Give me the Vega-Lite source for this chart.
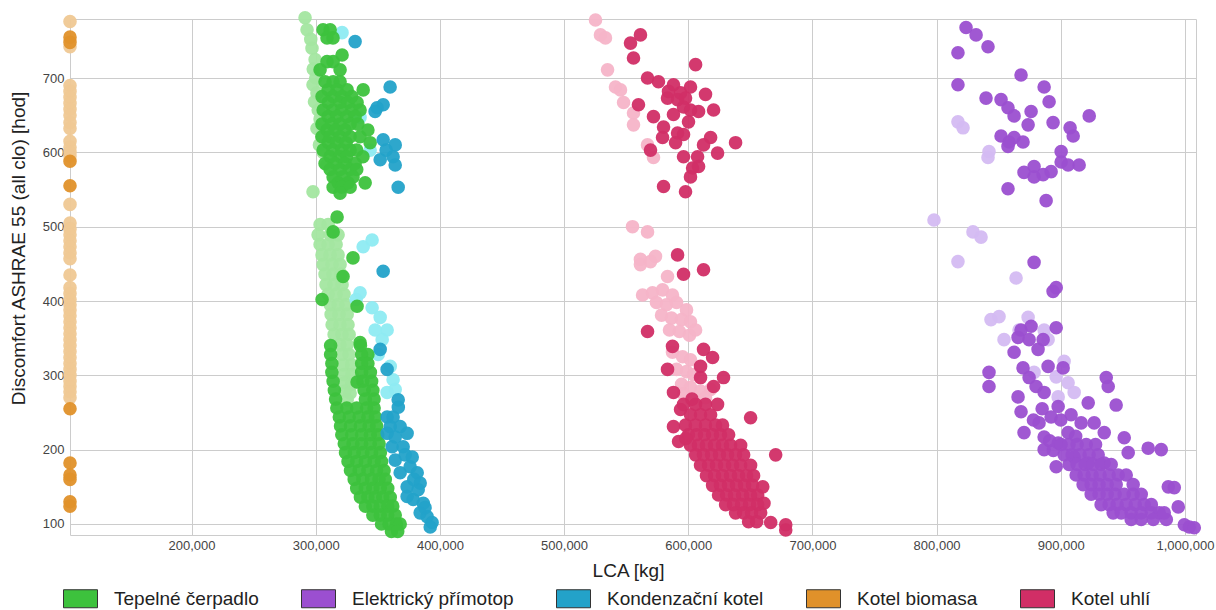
{
"$schema": "https://vega.github.io/schema/vega-lite/v6.json",
"width": 1126,
"height": 516,
"autosize": {"type": "none"},
"padding": {"left": 70, "top": 19, "right": 20, "bottom": 75},
"background": "white",
"config": {"view": {"stroke": "#cccccc"}, "font": "Liberation Sans"},
"datasets": {
"tmave": [
{"sys":"Tepelné čerpadlo","lca":305900,"hod":765},{"sys":"Tepelné čerpadlo","lca":311600,"hod":765},{"sys":"Tepelné čerpadlo","lca":309100,"hod":754},{"sys":"Tepelné čerpadlo","lca":313900,"hod":754},{"sys":"Tepelné čerpadlo","lca":321200,"hod":731},{"sys":"Tepelné čerpadlo","lca":309100,"hod":722},{"sys":"Tepelné čerpadlo","lca":314000,"hod":722},{"sys":"Tepelné čerpadlo","lca":303500,"hod":711},{"sys":"Tepelné čerpadlo","lca":319600,"hod":711},{"sys":"Tepelné čerpadlo","lca":307500,"hod":695},{"sys":"Tepelné čerpadlo","lca":314000,"hod":695},{"sys":"Tepelné čerpadlo","lca":319600,"hod":695},{"sys":"Tepelné čerpadlo","lca":310000,"hod":684},{"sys":"Tepelné čerpadlo","lca":317200,"hod":684},{"sys":"Tepelné čerpadlo","lca":325300,"hod":684},{"sys":"Tepelné čerpadlo","lca":338200,"hod":684},{"sys":"Tepelné čerpadlo","lca":305100,"hod":675},{"sys":"Tepelné čerpadlo","lca":314000,"hod":675},{"sys":"Tepelné čerpadlo","lca":321200,"hod":675},{"sys":"Tepelné čerpadlo","lca":329000,"hod":675},{"sys":"Tepelné čerpadlo","lca":310000,"hod":667},{"sys":"Tepelné čerpadlo","lca":319600,"hod":667},{"sys":"Tepelné čerpadlo","lca":326000,"hod":667},{"sys":"Tepelné čerpadlo","lca":333300,"hod":667},{"sys":"Tepelné čerpadlo","lca":306000,"hod":657},{"sys":"Tepelné čerpadlo","lca":314000,"hod":657},{"sys":"Tepelné čerpadlo","lca":321000,"hod":657},{"sys":"Tepelné čerpadlo","lca":329000,"hod":657},{"sys":"Tepelné čerpadlo","lca":335700,"hod":657},{"sys":"Tepelné čerpadlo","lca":310000,"hod":648},{"sys":"Tepelné čerpadlo","lca":317000,"hod":648},{"sys":"Tepelné čerpadlo","lca":325000,"hod":648},{"sys":"Tepelné čerpadlo","lca":331700,"hod":648},{"sys":"Tepelné čerpadlo","lca":305000,"hod":638},{"sys":"Tepelné čerpadlo","lca":313000,"hod":638},{"sys":"Tepelné čerpadlo","lca":319600,"hod":638},{"sys":"Tepelné čerpadlo","lca":327700,"hod":638},{"sys":"Tepelné čerpadlo","lca":334000,"hod":638},{"sys":"Tepelné čerpadlo","lca":309000,"hod":630},{"sys":"Tepelné čerpadlo","lca":316000,"hod":630},{"sys":"Tepelné čerpadlo","lca":323600,"hod":630},{"sys":"Tepelné čerpadlo","lca":342000,"hod":630},{"sys":"Tepelné čerpadlo","lca":305000,"hod":621},{"sys":"Tepelné čerpadlo","lca":311600,"hod":621},{"sys":"Tepelné čerpadlo","lca":319600,"hod":621},{"sys":"Tepelné čerpadlo","lca":327700,"hod":621},{"sys":"Tepelné čerpadlo","lca":335700,"hod":621},{"sys":"Tepelné čerpadlo","lca":310000,"hod":613},{"sys":"Tepelné čerpadlo","lca":317000,"hod":613},{"sys":"Tepelné čerpadlo","lca":324400,"hod":613},{"sys":"Tepelné čerpadlo","lca":343800,"hod":613},{"sys":"Tepelné čerpadlo","lca":306000,"hod":603},{"sys":"Tepelné čerpadlo","lca":314000,"hod":603},{"sys":"Tepelné čerpadlo","lca":321000,"hod":603},{"sys":"Tepelné čerpadlo","lca":327700,"hod":603},{"sys":"Tepelné čerpadlo","lca":333000,"hod":603},{"sys":"Tepelné čerpadlo","lca":311600,"hod":594},{"sys":"Tepelné čerpadlo","lca":319600,"hod":594},{"sys":"Tepelné čerpadlo","lca":325000,"hod":594},{"sys":"Tepelné čerpadlo","lca":338000,"hod":594},{"sys":"Tepelné čerpadlo","lca":307500,"hod":585},{"sys":"Tepelné čerpadlo","lca":315600,"hod":585},{"sys":"Tepelné čerpadlo","lca":323600,"hod":585},{"sys":"Tepelné čerpadlo","lca":331700,"hod":585},{"sys":"Tepelné čerpadlo","lca":311600,"hod":577},{"sys":"Tepelné čerpadlo","lca":319600,"hod":577},{"sys":"Tepelné čerpadlo","lca":327700,"hod":577},{"sys":"Tepelné čerpadlo","lca":333000,"hod":577},{"sys":"Tepelné čerpadlo","lca":314000,"hod":567},{"sys":"Tepelné čerpadlo","lca":322000,"hod":567},{"sys":"Tepelné čerpadlo","lca":330000,"hod":567},{"sys":"Tepelné čerpadlo","lca":318000,"hod":559},{"sys":"Tepelné čerpadlo","lca":326000,"hod":559},{"sys":"Tepelné čerpadlo","lca":339800,"hod":559},{"sys":"Tepelné čerpadlo","lca":314000,"hod":553},{"sys":"Tepelné čerpadlo","lca":321000,"hod":553},{"sys":"Tepelné čerpadlo","lca":327700,"hod":553},{"sys":"Tepelné čerpadlo","lca":319600,"hod":545},
{"sys":"Tepelné čerpadlo","lca":317200,"hod":513},{"sys":"Tepelné čerpadlo","lca":314000,"hod":493},{"sys":"Tepelné čerpadlo","lca":330000,"hod":458},{"sys":"Tepelné čerpadlo","lca":322000,"hod":433},{"sys":"Tepelné čerpadlo","lca":305100,"hod":402},{"sys":"Tepelné čerpadlo","lca":333300,"hod":393},{"sys":"Tepelné čerpadlo","lca":335700,"hod":344},{"sys":"Tepelné čerpadlo","lca":333300,"hod":291},
{"sys":"Tepelné čerpadlo","lca":312000,"hod":340},{"sys":"Tepelné čerpadlo","lca":336000,"hod":340},
{"sys":"Tepelné čerpadlo","lca":312000,"hod":328},{"sys":"Tepelné čerpadlo","lca":337000,"hod":328},{"sys":"Tepelné čerpadlo","lca":342000,"hod":328},
{"sys":"Tepelné čerpadlo","lca":313000,"hod":316},{"sys":"Tepelné čerpadlo","lca":337000,"hod":316},{"sys":"Tepelné čerpadlo","lca":342000,"hod":316},
{"sys":"Tepelné čerpadlo","lca":313000,"hod":304},{"sys":"Tepelné čerpadlo","lca":337000,"hod":304},{"sys":"Tepelné čerpadlo","lca":344000,"hod":304},
{"sys":"Tepelné čerpadlo","lca":314000,"hod":292},{"sys":"Tepelné čerpadlo","lca":338000,"hod":292},{"sys":"Tepelné čerpadlo","lca":345000,"hod":292},
{"sys":"Tepelné čerpadlo","lca":315000,"hod":280},{"sys":"Tepelné čerpadlo","lca":339000,"hod":280},{"sys":"Tepelné čerpadlo","lca":346000,"hod":280},
{"sys":"Tepelné čerpadlo","lca":316000,"hod":268},{"sys":"Tepelné čerpadlo","lca":340000,"hod":268},{"sys":"Tepelné čerpadlo","lca":347000,"hod":268},
{"sys":"Tepelné čerpadlo","lca":317000,"hod":256},{"sys":"Tepelné čerpadlo","lca":325000,"hod":256},{"sys":"Tepelné čerpadlo","lca":333000,"hod":256},{"sys":"Tepelné čerpadlo","lca":341000,"hod":256},{"sys":"Tepelné čerpadlo","lca":347000,"hod":256},
{"sys":"Tepelné čerpadlo","lca":319000,"hod":244},{"sys":"Tepelné čerpadlo","lca":327000,"hod":244},{"sys":"Tepelné čerpadlo","lca":335000,"hod":244},{"sys":"Tepelné čerpadlo","lca":342000,"hod":244},{"sys":"Tepelné čerpadlo","lca":348000,"hod":244},
{"sys":"Tepelné čerpadlo","lca":320000,"hod":232},{"sys":"Tepelné čerpadlo","lca":328000,"hod":232},{"sys":"Tepelné čerpadlo","lca":336000,"hod":232},{"sys":"Tepelné čerpadlo","lca":343000,"hod":232},{"sys":"Tepelné čerpadlo","lca":349000,"hod":232},
{"sys":"Tepelné čerpadlo","lca":321000,"hod":220},{"sys":"Tepelné čerpadlo","lca":329000,"hod":220},{"sys":"Tepelné čerpadlo","lca":337000,"hod":220},{"sys":"Tepelné čerpadlo","lca":344000,"hod":220},{"sys":"Tepelné čerpadlo","lca":350000,"hod":220},
{"sys":"Tepelné čerpadlo","lca":323000,"hod":208},{"sys":"Tepelné čerpadlo","lca":330000,"hod":208},{"sys":"Tepelné čerpadlo","lca":337000,"hod":208},{"sys":"Tepelné čerpadlo","lca":344000,"hod":208},{"sys":"Tepelné čerpadlo","lca":351000,"hod":208},
{"sys":"Tepelné čerpadlo","lca":324000,"hod":196},{"sys":"Tepelné čerpadlo","lca":331000,"hod":196},{"sys":"Tepelné čerpadlo","lca":338000,"hod":196},{"sys":"Tepelné čerpadlo","lca":345000,"hod":196},{"sys":"Tepelné čerpadlo","lca":352000,"hod":196},
{"sys":"Tepelné čerpadlo","lca":326000,"hod":184},{"sys":"Tepelné čerpadlo","lca":333000,"hod":184},{"sys":"Tepelné čerpadlo","lca":340000,"hod":184},{"sys":"Tepelné čerpadlo","lca":347000,"hod":184},{"sys":"Tepelné čerpadlo","lca":353000,"hod":184},
{"sys":"Tepelné čerpadlo","lca":328000,"hod":172},{"sys":"Tepelné čerpadlo","lca":335000,"hod":172},{"sys":"Tepelné čerpadlo","lca":342000,"hod":172},{"sys":"Tepelné čerpadlo","lca":349000,"hod":172},{"sys":"Tepelné čerpadlo","lca":355000,"hod":172},
{"sys":"Tepelné čerpadlo","lca":331000,"hod":160},{"sys":"Tepelné čerpadlo","lca":338000,"hod":160},{"sys":"Tepelné čerpadlo","lca":345000,"hod":160},{"sys":"Tepelné čerpadlo","lca":351000,"hod":160},{"sys":"Tepelné čerpadlo","lca":356000,"hod":160},
{"sys":"Tepelné čerpadlo","lca":333000,"hod":148},{"sys":"Tepelné čerpadlo","lca":340000,"hod":148},{"sys":"Tepelné čerpadlo","lca":346000,"hod":148},{"sys":"Tepelné čerpadlo","lca":352000,"hod":148},{"sys":"Tepelné čerpadlo","lca":358000,"hod":148},
{"sys":"Tepelné čerpadlo","lca":336000,"hod":136},{"sys":"Tepelné čerpadlo","lca":342000,"hod":136},{"sys":"Tepelné čerpadlo","lca":348000,"hod":136},{"sys":"Tepelné čerpadlo","lca":354000,"hod":136},{"sys":"Tepelné čerpadlo","lca":360000,"hod":136},
{"sys":"Tepelné čerpadlo","lca":340000,"hod":124},{"sys":"Tepelné čerpadlo","lca":346000,"hod":124},{"sys":"Tepelné čerpadlo","lca":352000,"hod":124},{"sys":"Tepelné čerpadlo","lca":358000,"hod":124},{"sys":"Tepelné čerpadlo","lca":362000,"hod":124},
{"sys":"Tepelné čerpadlo","lca":346000,"hod":112},{"sys":"Tepelné čerpadlo","lca":352000,"hod":112},{"sys":"Tepelné čerpadlo","lca":358000,"hod":112},{"sys":"Tepelné čerpadlo","lca":364000,"hod":112},
{"sys":"Tepelné čerpadlo","lca":353000,"hod":100},{"sys":"Tepelné čerpadlo","lca":359000,"hod":100},{"sys":"Tepelné čerpadlo","lca":365000,"hod":100},{"sys":"Tepelné čerpadlo","lca":368000,"hod":100},
{"sys":"Tepelné čerpadlo","lca":361000,"hod":90},{"sys":"Tepelné čerpadlo","lca":366000,"hod":90},
{"sys":"Kondenzační kotel","lca":331700,"hod":749},{"sys":"Kondenzační kotel","lca":359900,"hod":688},{"sys":"Kondenzační kotel","lca":354300,"hod":664},{"sys":"Kondenzační kotel","lca":349400,"hod":660},{"sys":"Kondenzační kotel","lca":347800,"hod":655},{"sys":"Kondenzační kotel","lca":354300,"hod":617},{"sys":"Kondenzační kotel","lca":364000,"hod":610},{"sys":"Kondenzační kotel","lca":356700,"hod":603},{"sys":"Kondenzační kotel","lca":351900,"hod":590},{"sys":"Kondenzační kotel","lca":362300,"hod":594},{"sys":"Kondenzační kotel","lca":364000,"hod":583},{"sys":"Kondenzační kotel","lca":366400,"hod":553},
{"sys":"Kondenzační kotel","lca":354300,"hod":440},{"sys":"Kondenzační kotel","lca":351900,"hod":335},{"sys":"Kondenzační kotel","lca":357500,"hod":308},{"sys":"Kondenzační kotel","lca":366400,"hod":267},{"sys":"Kondenzační kotel","lca":357500,"hod":244},{"sys":"Kondenzační kotel","lca":362300,"hod":244},{"sys":"Kondenzační kotel","lca":360000,"hod":231},{"sys":"Kondenzační kotel","lca":368000,"hod":231},{"sys":"Kondenzační kotel","lca":373600,"hod":222},{"sys":"Kondenzační kotel","lca":357500,"hod":222},{"sys":"Kondenzační kotel","lca":361500,"hod":204},{"sys":"Kondenzační kotel","lca":370400,"hod":204},{"sys":"Kondenzační kotel","lca":364000,"hod":186},{"sys":"Kondenzační kotel","lca":377700,"hod":190},{"sys":"Kondenzační kotel","lca":368000,"hod":169},{"sys":"Kondenzační kotel","lca":381700,"hod":169},{"sys":"Kondenzační kotel","lca":373600,"hod":150},{"sys":"Kondenzační kotel","lca":384100,"hod":155},{"sys":"Kondenzační kotel","lca":373600,"hod":137},{"sys":"Kondenzační kotel","lca":378500,"hod":133},{"sys":"Kondenzační kotel","lca":386600,"hod":128},{"sys":"Kondenzační kotel","lca":384100,"hod":115},{"sys":"Kondenzační kotel","lca":389700,"hod":110},{"sys":"Kondenzační kotel","lca":393700,"hod":102},{"sys":"Kondenzační kotel","lca":392200,"hod":96},
{"sys":"Kondenzační kotel","lca":364000,"hod":217},{"sys":"Kondenzační kotel","lca":372000,"hod":193},{"sys":"Kondenzační kotel","lca":376000,"hod":177},{"sys":"Kondenzační kotel","lca":382500,"hod":146},{"sys":"Kondenzační kotel","lca":388000,"hod":122},{"sys":"Kondenzační kotel","lca":366500,"hod":257},{"sys":"Kondenzační kotel","lca":379000,"hod":160},
{"sys":"Kotel biomasa","lca":102100,"hod":755},{"sys":"Kotel biomasa","lca":102100,"hod":748},{"sys":"Kotel biomasa","lca":102100,"hod":588},{"sys":"Kotel biomasa","lca":102100,"hod":555},{"sys":"Kotel biomasa","lca":102100,"hod":255},{"sys":"Kotel biomasa","lca":102100,"hod":182},{"sys":"Kotel biomasa","lca":102100,"hod":166},{"sys":"Kotel biomasa","lca":102100,"hod":160},{"sys":"Kotel biomasa","lca":102100,"hod":130},{"sys":"Kotel biomasa","lca":102100,"hod":124},
{"sys":"Kotel uhlí","lca":561500,"hod":758},{"sys":"Kotel uhlí","lca":553500,"hod":747},{"sys":"Kotel uhlí","lca":555900,"hod":727},{"sys":"Kotel uhlí","lca":605900,"hod":718},{"sys":"Kotel uhlí","lca":567200,"hod":700},{"sys":"Kotel uhlí","lca":576000,"hod":695},{"sys":"Kotel uhlí","lca":588100,"hod":691},{"sys":"Kotel uhlí","lca":601800,"hod":688},{"sys":"Kotel uhlí","lca":613900,"hod":678},{"sys":"Kotel uhlí","lca":583300,"hod":673},{"sys":"Kotel uhlí","lca":591400,"hod":671},{"sys":"Kotel uhlí","lca":596200,"hod":661},{"sys":"Kotel uhlí","lca":559900,"hod":664},{"sys":"Kotel uhlí","lca":608300,"hod":655},{"sys":"Kotel uhlí","lca":620400,"hod":657},{"sys":"Kotel uhlí","lca":572000,"hod":648},{"sys":"Kotel uhlí","lca":588100,"hod":651},{"sys":"Kotel uhlí","lca":600200,"hod":641},{"sys":"Kotel uhlí","lca":580100,"hod":634},{"sys":"Kotel uhlí","lca":591400,"hod":626},{"sys":"Kotel uhlí","lca":596200,"hod":624},{"sys":"Kotel uhlí","lca":579300,"hod":620},{"sys":"Kotel uhlí","lca":618000,"hod":620},{"sys":"Kotel uhlí","lca":612300,"hod":610},{"sys":"Kotel uhlí","lca":589800,"hod":613},{"sys":"Kotel uhlí","lca":569600,"hod":603},{"sys":"Kotel uhlí","lca":638100,"hod":613},{"sys":"Kotel uhlí","lca":623600,"hod":599},{"sys":"Kotel uhlí","lca":596200,"hod":594},{"sys":"Kotel uhlí","lca":607500,"hod":594},{"sys":"Kotel uhlí","lca":603500,"hod":579},{"sys":"Kotel uhlí","lca":608300,"hod":581},{"sys":"Kotel uhlí","lca":601800,"hod":567},{"sys":"Kotel uhlí","lca":580100,"hod":554},{"sys":"Kotel uhlí","lca":597800,"hod":547},{"sys":"Kotel uhlí","lca":584100,"hod":682},{"sys":"Kotel uhlí","lca":593800,"hod":680},{"sys":"Kotel uhlí","lca":597800,"hod":673},{"sys":"Kotel uhlí","lca":601800,"hod":657},
{"sys":"Kotel uhlí","lca":591400,"hod":462},{"sys":"Kotel uhlí","lca":612300,"hod":442},{"sys":"Kotel uhlí","lca":596200,"hod":436},{"sys":"Kotel uhlí","lca":567200,"hod":359},{"sys":"Kotel uhlí","lca":587300,"hod":339},{"sys":"Kotel uhlí","lca":612300,"hod":335},{"sys":"Kotel uhlí","lca":619600,"hod":324},{"sys":"Kotel uhlí","lca":609900,"hod":312},{"sys":"Kotel uhlí","lca":583300,"hod":308},{"sys":"Kotel uhlí","lca":628400,"hod":297},{"sys":"Kotel uhlí","lca":609900,"hod":297},{"sys":"Kotel uhlí","lca":588100,"hod":277},{"sys":"Kotel uhlí","lca":620400,"hod":285},{"sys":"Kotel uhlí","lca":650200,"hod":243},{"sys":"Kotel uhlí","lca":670400,"hod":193},{"sys":"Kotel uhlí","lca":588100,"hod":231},{"sys":"Kotel uhlí","lca":593800,"hod":254},{"sys":"Kotel uhlí","lca":592200,"hod":211},
{"sys":"Kotel uhlí","lca":596200,"hod":261},{"sys":"Kotel uhlí","lca":605900,"hod":261},{"sys":"Kotel uhlí","lca":613900,"hod":261},{"sys":"Kotel uhlí","lca":623600,"hod":261},
{"sys":"Kotel uhlí","lca":601800,"hod":247},{"sys":"Kotel uhlí","lca":609900,"hod":247},{"sys":"Kotel uhlí","lca":618000,"hod":247},
{"sys":"Kotel uhlí","lca":597800,"hod":233},{"sys":"Kotel uhlí","lca":605900,"hod":233},{"sys":"Kotel uhlí","lca":613900,"hod":233},{"sys":"Kotel uhlí","lca":622000,"hod":233},{"sys":"Kotel uhlí","lca":627600,"hod":233},
{"sys":"Kotel uhlí","lca":600200,"hod":220},{"sys":"Kotel uhlí","lca":606700,"hod":220},{"sys":"Kotel uhlí","lca":613100,"hod":220},{"sys":"Kotel uhlí","lca":619600,"hod":220},{"sys":"Kotel uhlí","lca":626000,"hod":220},{"sys":"Kotel uhlí","lca":632500,"hod":220},
{"sys":"Kotel uhlí","lca":601800,"hod":206},{"sys":"Kotel uhlí","lca":608300,"hod":206},{"sys":"Kotel uhlí","lca":614700,"hod":206},{"sys":"Kotel uhlí","lca":621200,"hod":206},{"sys":"Kotel uhlí","lca":627600,"hod":206},{"sys":"Kotel uhlí","lca":634100,"hod":206},{"sys":"Kotel uhlí","lca":642200,"hod":206},
{"sys":"Kotel uhlí","lca":605900,"hod":193},{"sys":"Kotel uhlí","lca":612300,"hod":193},{"sys":"Kotel uhlí","lca":618800,"hod":193},{"sys":"Kotel uhlí","lca":625200,"hod":193},{"sys":"Kotel uhlí","lca":631700,"hod":193},{"sys":"Kotel uhlí","lca":638100,"hod":193},{"sys":"Kotel uhlí","lca":644600,"hod":193},
{"sys":"Kotel uhlí","lca":609900,"hod":179},{"sys":"Kotel uhlí","lca":616400,"hod":179},{"sys":"Kotel uhlí","lca":622800,"hod":179},{"sys":"Kotel uhlí","lca":629300,"hod":179},{"sys":"Kotel uhlí","lca":635700,"hod":179},{"sys":"Kotel uhlí","lca":642200,"hod":179},{"sys":"Kotel uhlí","lca":650200,"hod":179},
{"sys":"Kotel uhlí","lca":614700,"hod":165},{"sys":"Kotel uhlí","lca":621200,"hod":165},{"sys":"Kotel uhlí","lca":627600,"hod":165},{"sys":"Kotel uhlí","lca":634100,"hod":165},{"sys":"Kotel uhlí","lca":640500,"hod":165},{"sys":"Kotel uhlí","lca":647000,"hod":165},{"sys":"Kotel uhlí","lca":652600,"hod":165},
{"sys":"Kotel uhlí","lca":619600,"hod":152},{"sys":"Kotel uhlí","lca":626000,"hod":152},{"sys":"Kotel uhlí","lca":632500,"hod":152},{"sys":"Kotel uhlí","lca":638900,"hod":152},{"sys":"Kotel uhlí","lca":645400,"hod":152},{"sys":"Kotel uhlí","lca":651800,"hod":152},
{"sys":"Kotel uhlí","lca":624400,"hod":139},{"sys":"Kotel uhlí","lca":630900,"hod":139},{"sys":"Kotel uhlí","lca":637300,"hod":139},{"sys":"Kotel uhlí","lca":643800,"hod":139},{"sys":"Kotel uhlí","lca":650200,"hod":139},{"sys":"Kotel uhlí","lca":655900,"hod":139},
{"sys":"Kotel uhlí","lca":630100,"hod":126},{"sys":"Kotel uhlí","lca":636500,"hod":126},{"sys":"Kotel uhlí","lca":643000,"hod":126},{"sys":"Kotel uhlí","lca":649400,"hod":126},{"sys":"Kotel uhlí","lca":655900,"hod":126},
{"sys":"Kotel uhlí","lca":638100,"hod":115},{"sys":"Kotel uhlí","lca":644600,"hod":115},{"sys":"Kotel uhlí","lca":651000,"hod":115},{"sys":"Kotel uhlí","lca":658300,"hod":115},
{"sys":"Kotel uhlí","lca":648600,"hod":103},{"sys":"Kotel uhlí","lca":655100,"hod":103},{"sys":"Kotel uhlí","lca":666400,"hod":102},{"sys":"Kotel uhlí","lca":678500,"hod":99},{"sys":"Kotel uhlí","lca":678500,"hod":92},
{"sys":"Kotel uhlí","lca":603000,"hod":268},{"sys":"Kotel uhlí","lca":598000,"hod":215},{"sys":"Kotel uhlí","lca":660000,"hod":150},{"sys":"Kotel uhlí","lca":661000,"hod":128},
{"sys":"Elektrický přímotop","lca":823700,"hod":768},{"sys":"Elektrický přímotop","lca":831800,"hod":758},{"sys":"Elektrický přímotop","lca":841400,"hod":742},{"sys":"Elektrický přímotop","lca":817200,"hod":734},{"sys":"Elektrický přímotop","lca":868000,"hod":704},{"sys":"Elektrický přímotop","lca":817200,"hod":691},{"sys":"Elektrický přímotop","lca":886600,"hod":688},{"sys":"Elektrický přímotop","lca":890600,"hod":668},{"sys":"Elektrický přímotop","lca":839800,"hod":673},{"sys":"Elektrický přímotop","lca":851900,"hod":671},{"sys":"Elektrický přímotop","lca":857500,"hod":660},{"sys":"Elektrický přímotop","lca":862400,"hod":649},{"sys":"Elektrický přímotop","lca":876100,"hod":655},{"sys":"Elektrický přímotop","lca":873700,"hod":637},{"sys":"Elektrický přímotop","lca":893800,"hod":640},{"sys":"Elektrický přímotop","lca":922900,"hod":649},{"sys":"Elektrický přímotop","lca":907500,"hod":633},{"sys":"Elektrický přímotop","lca":910000,"hod":622},{"sys":"Elektrický přímotop","lca":851900,"hod":622},{"sys":"Elektrický přímotop","lca":858400,"hod":614},{"sys":"Elektrický přímotop","lca":862400,"hod":620},{"sys":"Elektrický přímotop","lca":869600,"hod":614},{"sys":"Elektrický přímotop","lca":857500,"hod":608},{"sys":"Elektrický přímotop","lca":900300,"hod":601},{"sys":"Elektrický přímotop","lca":900300,"hod":587},{"sys":"Elektrický přímotop","lca":905900,"hod":583},{"sys":"Elektrický přímotop","lca":914800,"hod":583},{"sys":"Elektrický přímotop","lca":870400,"hod":573},{"sys":"Elektrický přímotop","lca":878500,"hod":581},{"sys":"Elektrický přímotop","lca":878500,"hod":567},{"sys":"Elektrický přímotop","lca":885800,"hod":570},{"sys":"Elektrický přímotop","lca":892200,"hod":574},{"sys":"Elektrický přímotop","lca":857500,"hod":551},{"sys":"Elektrický přímotop","lca":888200,"hod":535},
{"sys":"Elektrický přímotop","lca":878500,"hod":452},{"sys":"Elektrický přímotop","lca":893800,"hod":413},{"sys":"Elektrický přímotop","lca":896300,"hod":418},{"sys":"Elektrický přímotop","lca":868000,"hod":361},{"sys":"Elektrický přímotop","lca":876100,"hod":366},{"sys":"Elektrický přímotop","lca":865600,"hod":351},{"sys":"Elektrický přímotop","lca":874500,"hod":348},{"sys":"Elektrický přímotop","lca":885800,"hod":348},{"sys":"Elektrický přímotop","lca":896300,"hod":364},{"sys":"Elektrický přímotop","lca":881700,"hod":335},{"sys":"Elektrický přímotop","lca":862400,"hod":331},{"sys":"Elektrický přímotop","lca":842200,"hod":304},{"sys":"Elektrický přímotop","lca":842200,"hod":285},{"sys":"Elektrický přímotop","lca":869600,"hod":310},{"sys":"Elektrický přímotop","lca":889800,"hod":312},{"sys":"Elektrický přímotop","lca":901900,"hod":310},{"sys":"Elektrický přímotop","lca":874500,"hod":297},{"sys":"Elektrický přímotop","lca":880100,"hod":285},{"sys":"Elektrický přímotop","lca":886600,"hod":277},{"sys":"Elektrický přímotop","lca":865600,"hod":271},{"sys":"Elektrický přímotop","lca":936600,"hod":297},{"sys":"Elektrický přímotop","lca":938200,"hod":285},{"sys":"Elektrický přímotop","lca":868000,"hod":251},{"sys":"Elektrický přímotop","lca":897900,"hod":258},{"sys":"Elektrický přímotop","lca":922100,"hod":263},{"sys":"Elektrický přímotop","lca":944600,"hod":260},{"sys":"Elektrický přímotop","lca":892200,"hod":244},{"sys":"Elektrický přímotop","lca":908300,"hod":247},{"sys":"Elektrický přímotop","lca":870400,"hod":223},{"sys":"Elektrický přímotop","lca":882500,"hod":236},{"sys":"Elektrický přímotop","lca":916400,"hod":236},{"sys":"Elektrický přímotop","lca":935000,"hod":223},{"sys":"Elektrický přímotop","lca":886600,"hod":217},{"sys":"Elektrický přímotop","lca":897900,"hod":209},{"sys":"Elektrický přímotop","lca":905900,"hod":223},{"sys":"Elektrický přímotop","lca":926900,"hod":236},{"sys":"Elektrický přímotop","lca":951100,"hod":216},{"sys":"Elektrický přímotop","lca":970400,"hod":202},{"sys":"Elektrický přímotop","lca":980900,"hod":200},{"sys":"Elektrický přímotop","lca":886600,"hod":200},{"sys":"Elektrický přímotop","lca":896300,"hod":177},{"sys":"Elektrický přímotop","lca":910800,"hod":190},{"sys":"Elektrický přímotop","lca":922100,"hod":182},{"sys":"Elektrický přímotop","lca":935000,"hod":182},{"sys":"Elektrický přímotop","lca":954300,"hod":196},{"sys":"Elektrický přímotop","lca":885000,"hod":255},{"sys":"Elektrický přímotop","lca":878000,"hod":240},{"sys":"Elektrický přímotop","lca":900000,"hod":240},{"sys":"Elektrický přímotop","lca":891000,"hod":212},{"sys":"Elektrický přímotop","lca":894000,"hod":199},{"sys":"Elektrický přímotop","lca":912000,"hod":218},{"sys":"Elektrický přímotop","lca":928000,"hod":207},
{"sys":"Elektrický přímotop","lca":900300,"hod":207},{"sys":"Elektrický přímotop","lca":906700,"hod":207},{"sys":"Elektrický přímotop","lca":913200,"hod":207},{"sys":"Elektrický přímotop","lca":920500,"hod":207},
{"sys":"Elektrický přímotop","lca":902700,"hod":193},{"sys":"Elektrický přímotop","lca":909200,"hod":193},{"sys":"Elektrický přímotop","lca":915600,"hod":193},{"sys":"Elektrický přímotop","lca":922900,"hod":193},{"sys":"Elektrický přímotop","lca":930100,"hod":193},
{"sys":"Elektrický přímotop","lca":906700,"hod":180},{"sys":"Elektrický přímotop","lca":913200,"hod":180},{"sys":"Elektrický přímotop","lca":919600,"hod":180},{"sys":"Elektrický přímotop","lca":926100,"hod":180},{"sys":"Elektrický přímotop","lca":932500,"hod":180},{"sys":"Elektrický přímotop","lca":940600,"hod":180},
{"sys":"Elektrický přímotop","lca":912400,"hod":166},{"sys":"Elektrický přímotop","lca":918800,"hod":166},{"sys":"Elektrický přímotop","lca":925300,"hod":166},{"sys":"Elektrický přímotop","lca":931700,"hod":166},{"sys":"Elektrický přímotop","lca":939000,"hod":166},{"sys":"Elektrický přímotop","lca":946300,"hod":166},{"sys":"Elektrický přímotop","lca":952700,"hod":166},
{"sys":"Elektrický přímotop","lca":918000,"hod":153},{"sys":"Elektrický přímotop","lca":924500,"hod":153},{"sys":"Elektrický přímotop","lca":930900,"hod":153},{"sys":"Elektrický přímotop","lca":937400,"hod":153},{"sys":"Elektrický přímotop","lca":944600,"hod":153},{"sys":"Elektrický přímotop","lca":958300,"hod":153},
{"sys":"Elektrický přímotop","lca":924500,"hod":140},{"sys":"Elektrický přímotop","lca":930900,"hod":140},{"sys":"Elektrický přímotop","lca":937400,"hod":140},{"sys":"Elektrický přímotop","lca":943800,"hod":140},{"sys":"Elektrický přímotop","lca":951100,"hod":140},{"sys":"Elektrický přímotop","lca":958300,"hod":140},{"sys":"Elektrický přímotop","lca":964800,"hod":140},
{"sys":"Elektrický přímotop","lca":932500,"hod":126},{"sys":"Elektrický přímotop","lca":939000,"hod":126},{"sys":"Elektrický přímotop","lca":945400,"hod":126},{"sys":"Elektrický přímotop","lca":952700,"hod":126},{"sys":"Elektrický přímotop","lca":960000,"hod":126},{"sys":"Elektrický přímotop","lca":967200,"hod":126},{"sys":"Elektrický přímotop","lca":972900,"hod":126},
{"sys":"Elektrický přímotop","lca":942200,"hod":115},{"sys":"Elektrický přímotop","lca":948700,"hod":115},{"sys":"Elektrický přímotop","lca":956700,"hod":115},{"sys":"Elektrický přímotop","lca":964800,"hod":115},{"sys":"Elektrický přímotop","lca":972900,"hod":115},{"sys":"Elektrický přímotop","lca":979300,"hod":115},
{"sys":"Elektrický přímotop","lca":956700,"hod":106},{"sys":"Elektrický přímotop","lca":964800,"hod":106},{"sys":"Elektrický přímotop","lca":974500,"hod":106},{"sys":"Elektrický přímotop","lca":985000,"hod":106},
{"sys":"Elektrický přímotop","lca":986600,"hod":150},{"sys":"Elektrický přímotop","lca":991400,"hod":149},{"sys":"Elektrický přímotop","lca":994600,"hod":123},{"sys":"Elektrický přímotop","lca":983300,"hod":115},{"sys":"Elektrický přímotop","lca":999500,"hod":99},{"sys":"Elektrický přímotop","lca":1003500,"hod":96},{"sys":"Elektrický přímotop","lca":1007500,"hod":95}
],
"svetle": [
{"sys":"Tepelné čerpadlo","lca":291400,"hod":781},{"sys":"Tepelné čerpadlo","lca":293000,"hod":765},{"sys":"Tepelné čerpadlo","lca":296000,"hod":752},{"sys":"Tepelné čerpadlo","lca":297000,"hod":740},{"sys":"Tepelné čerpadlo","lca":299500,"hod":725},{"sys":"Tepelné čerpadlo","lca":298000,"hod":712},{"sys":"Tepelné čerpadlo","lca":300000,"hod":700},{"sys":"Tepelné čerpadlo","lca":297800,"hod":691},{"sys":"Tepelné čerpadlo","lca":301000,"hod":680},{"sys":"Tepelné čerpadlo","lca":299000,"hod":668},{"sys":"Tepelné čerpadlo","lca":302000,"hod":657},{"sys":"Tepelné čerpadlo","lca":303500,"hod":645},{"sys":"Tepelné čerpadlo","lca":301000,"hod":632},{"sys":"Tepelné čerpadlo","lca":305000,"hod":622},{"sys":"Tepelné čerpadlo","lca":303000,"hod":610},{"sys":"Tepelné čerpadlo","lca":306000,"hod":600},{"sys":"Tepelné čerpadlo","lca":311600,"hod":594},{"sys":"Tepelné čerpadlo","lca":309000,"hod":583},{"sys":"Tepelné čerpadlo","lca":315600,"hod":567},{"sys":"Tepelné čerpadlo","lca":297800,"hod":547},
{"sys":"Tepelné čerpadlo","lca":303500,"hod":503},{"sys":"Tepelné čerpadlo","lca":310000,"hod":503},{"sys":"Tepelné čerpadlo","lca":301900,"hod":489},{"sys":"Tepelné čerpadlo","lca":311600,"hod":489},{"sys":"Tepelné čerpadlo","lca":318000,"hod":489},{"sys":"Tepelné čerpadlo","lca":303500,"hod":476},{"sys":"Tepelné čerpadlo","lca":310000,"hod":476},{"sys":"Tepelné čerpadlo","lca":316400,"hod":476},{"sys":"Tepelné čerpadlo","lca":305100,"hod":462},{"sys":"Tepelné čerpadlo","lca":311600,"hod":462},{"sys":"Tepelné čerpadlo","lca":318000,"hod":462},{"sys":"Tepelné čerpadlo","lca":305900,"hod":449},{"sys":"Tepelné čerpadlo","lca":313200,"hod":449},{"sys":"Tepelné čerpadlo","lca":319600,"hod":449},{"sys":"Tepelné čerpadlo","lca":307500,"hod":436},{"sys":"Tepelné čerpadlo","lca":314000,"hod":436},{"sys":"Tepelné čerpadlo","lca":320400,"hod":436},{"sys":"Tepelné čerpadlo","lca":308300,"hod":422},{"sys":"Tepelné čerpadlo","lca":314800,"hod":422},{"sys":"Tepelné čerpadlo","lca":321200,"hod":422},{"sys":"Tepelné čerpadlo","lca":310000,"hod":409},{"sys":"Tepelné čerpadlo","lca":316400,"hod":409},{"sys":"Tepelné čerpadlo","lca":322800,"hod":409},{"sys":"Tepelné čerpadlo","lca":311600,"hod":395},{"sys":"Tepelné čerpadlo","lca":318000,"hod":395},{"sys":"Tepelné čerpadlo","lca":324400,"hod":395},{"sys":"Tepelné čerpadlo","lca":312400,"hod":382},{"sys":"Tepelné čerpadlo","lca":318800,"hod":382},{"sys":"Tepelné čerpadlo","lca":325300,"hod":382},{"sys":"Tepelné čerpadlo","lca":313200,"hod":368},{"sys":"Tepelné čerpadlo","lca":319600,"hod":368},{"sys":"Tepelné čerpadlo","lca":326000,"hod":368},{"sys":"Tepelné čerpadlo","lca":314800,"hod":355},{"sys":"Tepelné čerpadlo","lca":321200,"hod":355},{"sys":"Tepelné čerpadlo","lca":326900,"hod":355},{"sys":"Tepelné čerpadlo","lca":319600,"hod":341},{"sys":"Tepelné čerpadlo","lca":325300,"hod":341},{"sys":"Tepelné čerpadlo","lca":321200,"hod":328},{"sys":"Tepelné čerpadlo","lca":326900,"hod":328},{"sys":"Tepelné čerpadlo","lca":322000,"hod":314},{"sys":"Tepelné čerpadlo","lca":329000,"hod":314},{"sys":"Tepelné čerpadlo","lca":322800,"hod":301},{"sys":"Tepelné čerpadlo","lca":329300,"hod":301},{"sys":"Tepelné čerpadlo","lca":323600,"hod":290},{"sys":"Tepelné čerpadlo","lca":329000,"hod":288},{"sys":"Tepelné čerpadlo","lca":323600,"hod":279},{"sys":"Tepelné čerpadlo","lca":327700,"hod":276},{"sys":"Tepelné čerpadlo","lca":325300,"hod":267},
{"sys":"Kondenzační kotel","lca":321200,"hod":761},{"sys":"Kondenzační kotel","lca":335700,"hod":647},{"sys":"Kondenzační kotel","lca":343800,"hod":603},
{"sys":"Kondenzační kotel","lca":338200,"hod":473},{"sys":"Kondenzační kotel","lca":345400,"hod":482},{"sys":"Kondenzační kotel","lca":335700,"hod":411},{"sys":"Kondenzační kotel","lca":332500,"hod":402},{"sys":"Kondenzační kotel","lca":345400,"hod":391},{"sys":"Kondenzační kotel","lca":351900,"hod":378},{"sys":"Kondenzační kotel","lca":357500,"hod":361},{"sys":"Kondenzační kotel","lca":353500,"hod":348},{"sys":"Kondenzační kotel","lca":360000,"hod":312},{"sys":"Kondenzační kotel","lca":362300,"hod":294},{"sys":"Kondenzační kotel","lca":364000,"hod":281},{"sys":"Kondenzační kotel","lca":357500,"hod":277},{"sys":"Kondenzační kotel","lca":347800,"hod":361},{"sys":"Kondenzační kotel","lca":350300,"hod":328},
{"sys":"Kotel biomasa","lca":102100,"hod":776},{"sys":"Kotel biomasa","lca":102100,"hod":742},{"sys":"Kotel biomasa","lca":102100,"hod":690},{"sys":"Kotel biomasa","lca":102100,"hod":682},{"sys":"Kotel biomasa","lca":102100,"hod":674},{"sys":"Kotel biomasa","lca":102100,"hod":666},{"sys":"Kotel biomasa","lca":102100,"hod":658},{"sys":"Kotel biomasa","lca":102100,"hod":650},{"sys":"Kotel biomasa","lca":102100,"hod":640},{"sys":"Kotel biomasa","lca":102100,"hod":632},{"sys":"Kotel biomasa","lca":102100,"hod":615},{"sys":"Kotel biomasa","lca":102100,"hod":607},{"sys":"Kotel biomasa","lca":102100,"hod":600},{"sys":"Kotel biomasa","lca":102100,"hod":595},{"sys":"Kotel biomasa","lca":102100,"hod":530},{"sys":"Kotel biomasa","lca":102100,"hod":505},{"sys":"Kotel biomasa","lca":102100,"hod":497},{"sys":"Kotel biomasa","lca":102100,"hod":489},{"sys":"Kotel biomasa","lca":102100,"hod":481},{"sys":"Kotel biomasa","lca":102100,"hod":473},{"sys":"Kotel biomasa","lca":102100,"hod":465},{"sys":"Kotel biomasa","lca":102100,"hod":457},{"sys":"Kotel biomasa","lca":102100,"hod":435},{"sys":"Kotel biomasa","lca":102100,"hod":418},{"sys":"Kotel biomasa","lca":102100,"hod":410},{"sys":"Kotel biomasa","lca":102100,"hod":402},{"sys":"Kotel biomasa","lca":102100,"hod":395},{"sys":"Kotel biomasa","lca":102100,"hod":388},{"sys":"Kotel biomasa","lca":102100,"hod":380},{"sys":"Kotel biomasa","lca":102100,"hod":372},{"sys":"Kotel biomasa","lca":102100,"hod":364},{"sys":"Kotel biomasa","lca":102100,"hod":356},{"sys":"Kotel biomasa","lca":102100,"hod":348},{"sys":"Kotel biomasa","lca":102100,"hod":340},{"sys":"Kotel biomasa","lca":102100,"hod":332},{"sys":"Kotel biomasa","lca":102100,"hod":324},{"sys":"Kotel biomasa","lca":102100,"hod":316},{"sys":"Kotel biomasa","lca":102100,"hod":308},{"sys":"Kotel biomasa","lca":102100,"hod":300},{"sys":"Kotel biomasa","lca":102100,"hod":292},{"sys":"Kotel biomasa","lca":102100,"hod":285},{"sys":"Kotel biomasa","lca":102100,"hod":278},{"sys":"Kotel biomasa","lca":102100,"hod":270},
{"sys":"Kotel uhlí","lca":525300,"hod":778},{"sys":"Kotel uhlí","lca":529300,"hod":758},{"sys":"Kotel uhlí","lca":533300,"hod":754},{"sys":"Kotel uhlí","lca":535000,"hod":711},{"sys":"Kotel uhlí","lca":541400,"hod":688},{"sys":"Kotel uhlí","lca":545400,"hod":684},{"sys":"Kotel uhlí","lca":547900,"hod":667},{"sys":"Kotel uhlí","lca":555900,"hod":653},{"sys":"Kotel uhlí","lca":555900,"hod":637},{"sys":"Kotel uhlí","lca":567200,"hod":610},{"sys":"Kotel uhlí","lca":572000,"hod":593},{"sys":"Kotel uhlí","lca":555100,"hod":500},{"sys":"Kotel uhlí","lca":567200,"hod":493},{"sys":"Kotel uhlí","lca":561500,"hod":456},{"sys":"Kotel uhlí","lca":573600,"hod":460},
{"sys":"Kotel uhlí","lca":561500,"hod":449},{"sys":"Kotel uhlí","lca":569600,"hod":453},{"sys":"Kotel uhlí","lca":583300,"hod":433},{"sys":"Kotel uhlí","lca":563200,"hod":408},{"sys":"Kotel uhlí","lca":571200,"hod":411},{"sys":"Kotel uhlí","lca":579300,"hod":415},{"sys":"Kotel uhlí","lca":587300,"hod":408},{"sys":"Kotel uhlí","lca":574400,"hod":398},{"sys":"Kotel uhlí","lca":582500,"hod":395},{"sys":"Kotel uhlí","lca":590600,"hod":398},{"sys":"Kotel uhlí","lca":598600,"hod":388},{"sys":"Kotel uhlí","lca":578500,"hod":381},{"sys":"Kotel uhlí","lca":586500,"hod":377},{"sys":"Kotel uhlí","lca":594600,"hod":375},{"sys":"Kotel uhlí","lca":601800,"hod":372},{"sys":"Kotel uhlí","lca":584900,"hod":361},{"sys":"Kotel uhlí","lca":592900,"hod":359},{"sys":"Kotel uhlí","lca":601000,"hod":354},{"sys":"Kotel uhlí","lca":605900,"hod":361},{"sys":"Kotel uhlí","lca":587300,"hod":331},{"sys":"Kotel uhlí","lca":595400,"hod":325},{"sys":"Kotel uhlí","lca":601800,"hod":321},{"sys":"Kotel uhlí","lca":590600,"hod":308},{"sys":"Kotel uhlí","lca":598600,"hod":305},{"sys":"Kotel uhlí","lca":604300,"hod":301},{"sys":"Kotel uhlí","lca":594600,"hod":288},{"sys":"Kotel uhlí","lca":601800,"hod":284},{"sys":"Kotel uhlí","lca":609900,"hod":279},{"sys":"Kotel uhlí","lca":618000,"hod":281},{"sys":"Kotel uhlí","lca":596200,"hod":275},{"sys":"Kotel uhlí","lca":613900,"hod":270},
{"sys":"Elektrický přímotop","lca":817200,"hod":641},{"sys":"Elektrický přímotop","lca":821300,"hod":633},{"sys":"Elektrický přímotop","lca":842200,"hod":601},{"sys":"Elektrický přímotop","lca":841400,"hod":593},{"sys":"Elektrický přímotop","lca":797900,"hod":509},{"sys":"Elektrický přímotop","lca":829300,"hod":493},{"sys":"Elektrický přímotop","lca":835800,"hod":486},{"sys":"Elektrický přímotop","lca":817200,"hod":453},{"sys":"Elektrický přímotop","lca":864000,"hod":431},{"sys":"Elektrický přímotop","lca":843800,"hod":375},{"sys":"Elektrický přímotop","lca":850300,"hod":379},{"sys":"Elektrický přímotop","lca":854300,"hod":348},{"sys":"Elektrický přímotop","lca":873700,"hod":378},{"sys":"Elektrický přímotop","lca":866400,"hod":361},{"sys":"Elektrický přímotop","lca":886600,"hod":361},{"sys":"Elektrický přímotop","lca":889800,"hod":348},{"sys":"Elektrický přímotop","lca":902700,"hod":319},{"sys":"Elektrický přímotop","lca":896300,"hod":298},{"sys":"Elektrický přímotop","lca":905900,"hod":290},{"sys":"Elektrický přímotop","lca":910800,"hod":277},{"sys":"Elektrický přímotop","lca":897900,"hod":271},{"sys":"Elektrický přímotop","lca":878500,"hod":304}
]
},
"encoding": {
  "x": {"field": "lca", "type": "quantitative", "title": "LCA [kg]",
    "scale": {"domain": [102100, 1008900], "nice": false, "zero": false},
    "axis": {"values": [200000,300000,400000,500000,600000,700000,800000,900000,1000000], "format": ",d",
      "labelFontSize": 13, "labelColor": "#444444", "labelPadding": 4, "ticks": false, "domain": false,
      "grid": true, "gridColor": "#cccccc", "gridOpacity": 1,
      "titleFontSize": 19, "titleFontWeight": "normal", "titleColor": "#222222",
      "titleX": 558, "titleY": 35, "titleBaseline": "middle", "titleAlign": "center"}},
  "y": {"field": "hod", "type": "quantitative", "title": "Discomfort ASHRAE 55 (all clo) [hod]",
    "scale": {"domain": [85.2, 779.4], "nice": false, "zero": false},
    "axis": {"values": [100,200,300,400,500,600,700],
      "labelFontSize": 13, "labelColor": "#444444", "labelPadding": 6, "ticks": false, "domain": false,
      "grid": true, "gridColor": "#cccccc", "gridOpacity": 1,
      "titleFontSize": 19, "titleFontWeight": "normal", "titleColor": "#222222",
      "titleX": -52, "titleY": 229, "titleBaseline": "middle", "titleAlign": "center", "titleAngle": -90}}
},
"layer": [
  {"data": {"name": "svetle"},
   "mark": {"type": "circle", "size": 185, "opacity": 0.95},
   "encoding": {"color": {"field": "sys", "type": "nominal",
     "scale": {"domain": ["Tepelné čerpadlo","Elektrický přímotop","Kondenzační kotel","Kotel biomasa","Kotel uhlí"],
               "range": ["#a3e6a0","#d4baf2","#8eebf2","#efc894","#f5b4c8"]},
     "legend": null}}},
  {"data": {"name": "tmave"},
   "mark": {"type": "circle", "size": 185, "opacity": 0.95},
   "encoding": {"color": {"field": "sys", "type": "nominal",
     "scale": {"domain": ["Tepelné čerpadlo","Elektrický přímotop","Kondenzační kotel","Kotel biomasa","Kotel uhlí"],
               "range": ["#3dc23d","#9b4fd0","#23a2c9","#e0912a","#d12e66"]},
     "legend": {"orient": "none", "legendX": -7, "legendY": 562, "direction": "horizontal", "title": null,
       "symbolType": "M-1,-0.53H1V0.53H-1Z", "symbolSize": 1156, "symbolStrokeColor": "#333333", "symbolStrokeWidth": 1,
       "symbolOpacity": 1, "labelFontSize": 19, "labelColor": "#222222", "labelOffset": 16, "columnPadding": 40,
       "labelLimit": 300, "padding": 0}}}}
],
"resolve": {"scale": {"color": "independent"}}
}
